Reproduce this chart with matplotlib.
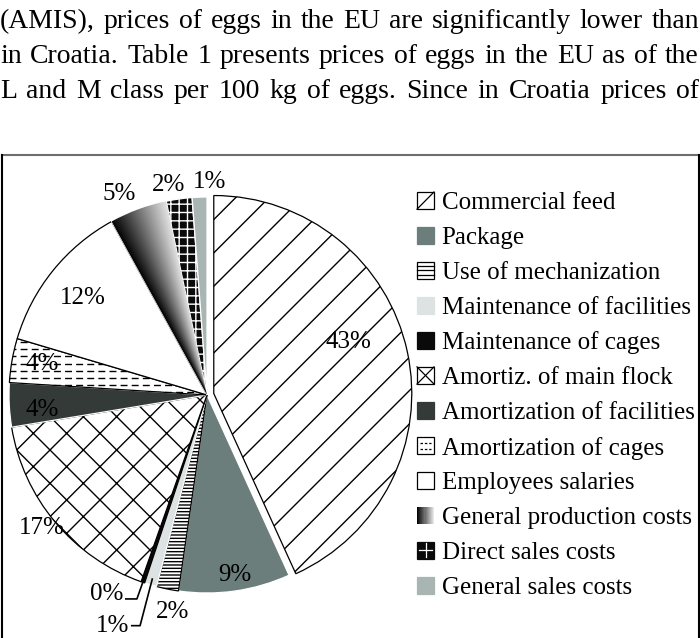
import numpy as np
import matplotlib
matplotlib.use("Agg")
import matplotlib.pyplot as plt
from matplotlib.patches import Rectangle
from matplotlib.lines import Line2D
from matplotlib.colors import LinearSegmentedColormap
from matplotlib.legend_handler import HandlerBase

plt.rcParams['font.family'] = ['Liberation Serif', 'DejaVu Serif']
plt.rcParams['hatch.linewidth'] = 1.0

W, H = 700, 638   # figure size in pixels (dpi 100)

# ---- data -------------------------------------------------------------
page_lines = [
    "(AMIS), prices of eggs in the EU are significantly lower than",
    "in Croatia. Table 1 presents prices of eggs in the EU as of the",
    "L and M class per 100 kg of eggs. Since in Croatia prices of",
]
categories = [
    "Commercial feed", "Package", "Use of mechanization",
    "Maintenance of facilities", "Maintenance of cages",
    "Amortiz. of main flock", "Amortization of facilities",
    "Amortization of cages", "Employees salaries",
    "General production costs", "Direct sales costs", "General sales costs",
]
shares = [43.2, 9.1, 1.8, 1.0, 0.3, 17.0, 3.6, 3.6, 12.4, 4.7, 2.1, 1.2]
share_labels = ["43%", "9%", "2%", "1%", "0%", "17%", "4%", "4%",
                "12%", "5%", "2%", "1%"]

# ---- styles -----------------------------------------------------------
faces = ['white', '#6b7e7c', 'white', '#dde3e2', '#0a0a0a', 'white',
         '#343a38', 'white', 'white', '#808080', '#0a0a0a', '#a9b5b3']
edges = ['black', 'white', 'black', 'white', 'black', 'black',
         'white', 'black', 'black', 'white', 'white', 'white']
hatches = ['/', None, '-----', None, None, 'x', None, None, None, None,
           '++', None]
explode = [0.035] + [0] * 11

# label positions in pie-radius units (layout only)
label_xy = [(0.712, 0.268), (0.141, -0.909), (-0.172, -1.096),
            (-0.475, -1.165), (-0.505, -1.005), (-0.833, -0.672),
            (-0.833, -0.076), (-0.833, 0.157), (-0.626, 0.49),
            (-0.444, 1.015), (-0.192, 1.06), (0.015, 1.076)]
# leader-line elbows for the two tiny slices
leaders = {3: (-0.338, -1.165), 4: (-0.354, -1.03)}

fig = plt.figure(figsize=(W / 100, H / 100), dpi=100)

# ---- page text (justified) --------------------------------------------
renderer = fig.canvas.get_renderer()
baselines = [28, 63, 98]
for line, yb in zip(page_lines, baselines):
    words = line.split()
    txts = [fig.text(0, 1 - yb / H, w, fontsize=20, va='baseline')
            for w in words]
    widths = [t.get_window_extent(renderer).width for t in txts]
    gap = (W - 1 - sum(widths)) / (len(words) - 1)
    x = 0.0
    for t, wd in zip(txts, widths):
        t.set_x(x / W)
        x += wd + gap

# ---- frame box ---------------------------------------------------------
fig.add_artist(Line2D([1.5 / W, 698.5 / W], [1 - 155 / H] * 2,
                      color='#6b706f', lw=1.5))
fig.add_artist(Line2D([1.5 / W] * 2, [0, 1 - 155 / H], color='black', lw=1.5))
fig.add_artist(Line2D([698.5 / W] * 2, [0, 1 - 155 / H], color='black', lw=1.5))

# ---- pie --------------------------------------------------------------
cx, cy, R = 207, 395, 198
half = 1.3 * R
ax = fig.add_axes([(cx - half) / W, (H - cy - half) / H, 2 * half / W, 2 * half / H])
wedges, _ = ax.pie(shares, startangle=90, counterclock=False, explode=explode,
                   radius=1.0)
for w, fc, ec, h in zip(wedges, faces, edges, hatches):
    w.set_facecolor(fc)
    w.set_edgecolor(ec)
    w.set_linewidth(0.9)
    if h:
        w.set_hatch(h)

# angular gradient fill for general production costs (dark -> light clockwise)
grad_cmap = LinearSegmentedColormap.from_list('g', ['#050505', '#e6e6e6'])
gw = wedges[9]
ext = gw.get_path().get_extents()
gx, gy = np.meshgrid(np.linspace(ext.x0, ext.x1, 200),
                     np.linspace(ext.y0, ext.y1, 200))
ang = np.degrees(np.arctan2(gy, gx))
span = gw.theta2 - gw.theta1
ang_val = np.mod(gw.theta2 - ang, 360) / span
ang_val[ang_val > 1.5] = 0
im = ax.imshow(np.clip(ang_val, 0, 1), cmap=grad_cmap, origin='lower',
               aspect='auto', extent=[ext.x0, ext.x1, ext.y0, ext.y1],
               zorder=1.5, vmin=0, vmax=1)
im.set_clip_path(gw)

# dashed fill for amortization of cages
dw = wedges[7]
ext = dw.get_path().get_extents()
for yy in np.arange(ext.y0 + 0.015, ext.y1, 0.036):
    ln, = ax.plot([ext.x0, ext.x1], [yy, yy], color='black', lw=1.0,
                  ls=(0, (5, 3)), zorder=1.6)
    ln.set_clip_path(dw)

ax.set_xlim(-1.3, 1.3)
ax.set_ylim(-1.3, 1.3)
ax.set_aspect('equal')
ax.axis('off')

# percentage labels
for lab, (lx, ly) in zip(share_labels, label_xy):
    ax.text(lx, ly, lab, fontsize=18, ha='center', va='center')

# leader lines
theta = 90 - np.cumsum([0] + shares)[:-1] / sum(shares) * 360
for i, (ex, ey) in leaders.items():
    mid = np.deg2rad(theta[i] - shares[i] / sum(shares) * 180)
    px, py = 0.97 * np.cos(mid), 0.97 * np.sin(mid)
    sx = label_xy[i][0] + 0.095
    ax.plot([sx, ex, px], [ey, ey, py], color='black', lw=1.2)


# ---- legend -----------------------------------------------------------
class KeyHandler(HandlerBase):
    """Legend key: filled box plus line segments in unit box coordinates."""

    def __init__(self, face, edge, segs=(), seg_color='black', dashed=False,
                 gradient=False):
        super().__init__()
        self.face, self.edge, self.segs = face, edge, segs
        self.seg_color, self.dashed, self.gradient = seg_color, dashed, gradient

    def create_artists(self, legend, orig_handle, xdescent, ydescent,
                       width, height, fontsize, trans):
        x0, y0 = -xdescent, -ydescent
        arts = []
        if self.gradient:
            n = 16
            cols = grad_cmap(np.linspace(0, 1, n))
            arts += [Rectangle((x0 + k * width / n, y0), width / n, height,
                               facecolor=cols[k], edgecolor='none',
                               transform=trans) for k in range(n)]
        else:
            arts.append(Rectangle((x0, y0), width, height, facecolor=self.face,
                                  edgecolor=self.edge, lw=0.9,
                                  transform=trans))
        for (ax0, ay0, ax1, ay1) in self.segs:
            arts.append(Line2D([x0 + ax0 * width, x0 + ax1 * width],
                               [y0 + ay0 * height, y0 + ay1 * height],
                               color=self.seg_color, lw=0.9,
                               ls=(0, (2, 1.5)) if self.dashed else '-',
                               transform=trans))
        return arts


key_handlers = [
    KeyHandler('white', 'black', [(0, 0, 1, 1)]),
    KeyHandler(faces[1], faces[1]),
    KeyHandler('white', 'black', [(0, y, 1, y) for y in (0.25, 0.5, 0.75)]),
    KeyHandler(faces[3], faces[3]),
    KeyHandler(faces[4], faces[4]),
    KeyHandler('white', 'black', [(0, 0, 1, 1), (0, 1, 1, 0)]),
    KeyHandler(faces[6], faces[6]),
    KeyHandler('white', 'black', [(0.15, 0.33, 0.85, 0.33),
                                  (0.15, 0.67, 0.85, 0.67)], dashed=True),
    KeyHandler('white', 'black'),
    KeyHandler(None, None, gradient=True),
    KeyHandler(faces[10], faces[10], [(0.5, 0.1, 0.5, 0.9), (0.1, 0.5, 0.9, 0.5)],
               seg_color='white'),
    KeyHandler(faces[11], faces[11]),
]
handles = [Rectangle((0, 0), 1, 1) for _ in categories]
fig.legend(handles, categories, loc='upper left',
           bbox_to_anchor=(417 / W, 1 - 192 / H), frameon=False,
           borderpad=0, borderaxespad=0, fontsize=18,
           handlelength=0.68, handleheight=0.68, handletextpad=0.3,
           labelspacing=0.5,
           handler_map={h: k for h, k in zip(handles, key_handlers)})

fig.savefig('out.png', dpi=100)
